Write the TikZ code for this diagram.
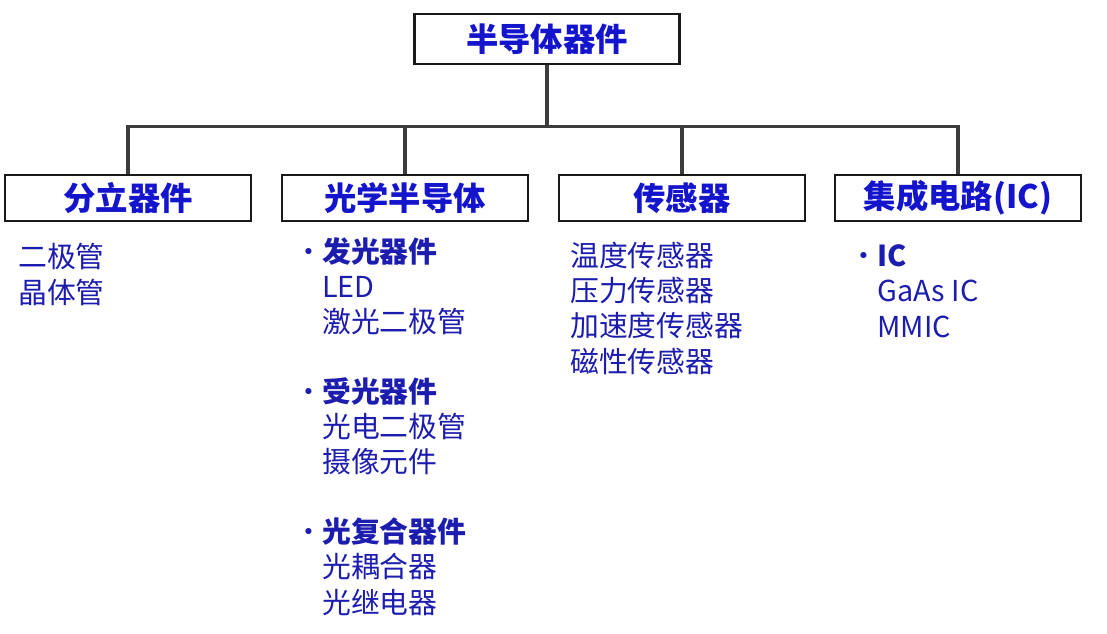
\documentclass[tikz,border=0pt]{standalone}
\usepackage{fontspec}
\setmainfont{Noto Sans CJK SC}
\usepackage{xcolor}
\usepackage{tikz}
\usetikzlibrary{positioning}
\definecolor{titleblue}{RGB}{20,20,205}
\definecolor{itemblue}{RGB}{28,28,175}
\definecolor{linegray}{RGB}{60,60,60}
\newcommand{\dotitem}[1]{\llap{·\kern-1pt}\textbf{#1}}

\begin{document}
\begin{tikzpicture}[
    x=0.025cm, y=-0.025cm,
    box/.style={rectangle, draw=black!90, line width=1.9pt, minimum width=6.15cm, minimum height=1.15cm, inner sep=0pt, font=\fontsize{23pt}{26pt}\selectfont\bfseries, text=titleblue},
    items/.style={anchor=base west, inner sep=0pt, align=left, text=itemblue, font=\fontsize{20.5pt}{24.9pt}\selectfont},
    link/.style={linegray, line width=2.2pt}
]
\useasboundingbox (0,0) rectangle (1107,633);

% root and the four groups
\node[box, minimum width=6.625cm, minimum height=1.25cm] (root) at (547,39) {半导体器件};
\node[box] (fenli) at (128,198) {分立器件};
\node[box] (guangxue) at (405,198) {光学半导体};
\node[box] (chuangan) at (682,198) {传感器};
\node[box] (jicheng) at (958,198) {集成电路(IC)};

\foreach \b in {fenli,guangxue,chuangan,jicheng}
    \draw[link] (root.south) -- ++(0,61) -| (\b.north);

% contents of each group (anchored at the baseline of the last line)
\node[items] (fenliitems) at (18,303) {二极管\\晶体管};
\node[items] (guangxueitems) at (322,613) {\dotitem{发光器件}\\LED\\激光二极管\\[24.9pt]
    \dotitem{受光器件}\\光电二极管\\摄像元件\\[24.9pt]
    \dotitem{光复合器件}\\光耦合器\\光继电器};
\node[items] (chuanganitems) at (570,372) {温度传感器\\压力传感器\\加速度传感器\\磁性传感器};
\node[items] (jichengitems) at (877,337) {\dotitem{IC}\\GaAs IC\\MMIC};
\end{tikzpicture}
\end{document}
